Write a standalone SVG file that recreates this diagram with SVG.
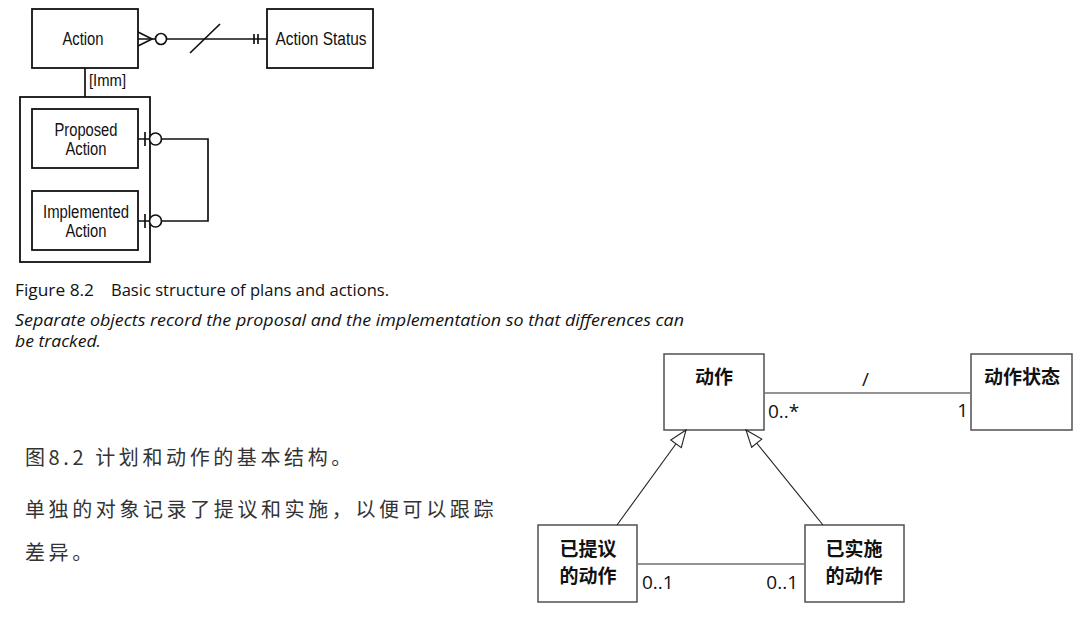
<svg xmlns="http://www.w3.org/2000/svg" width="1080" height="622" viewBox="0 0 1080 622">
<style>
.er{fill:#fff;stroke:#111;stroke-width:1.8}
.erl{fill:none;stroke:#111;stroke-width:1.7}
.erc{fill:#fff;stroke:#111;stroke-width:1.7}
.ert{font-family:"Liberation Sans",Arial,sans-serif;font-size:18px;fill:#111;text-anchor:middle}
.cap{font-family:"Open Sans","Noto Sans",sans-serif;font-size:16px;fill:#111}
.cn{font-family:"Noto Sans CJK SC",sans-serif;font-size:20px;fill:#333;letter-spacing:3.6px}
.uml{fill:#fff;stroke:#505050;stroke-width:1.5}
.umt{font-family:"Noto Sans CJK SC",sans-serif;font-size:19px;font-weight:bold;fill:#111;text-anchor:middle}
.mul{font-family:"Open Sans","Noto Sans",sans-serif;font-size:19px;fill:#111}
.assoc{fill:none;stroke:#707070;stroke-width:1.5}
.gen{fill:none;stroke:#222;stroke-width:1.1}
</style>
<defs>
<marker id="tri" markerUnits="userSpaceOnUse" viewBox="-19 -9 20 18" markerWidth="20" markerHeight="18" refX="0" refY="0" orient="auto">
<path d="M0,0 L-17,-6.5 L-17,6.5 Z" fill="#fff" stroke="#222" stroke-width="1.1"/>
</marker>
</defs>
<rect width="1080" height="622" fill="#fff"/>

<g id="er-action">
<rect class="er" x="32" y="9" width="106" height="59"/>
<text class="ert" x="83" y="45" textLength="41" lengthAdjust="spacingAndGlyphs">Action</text>
</g>
<g id="er-action-status">
<rect class="er" x="267" y="9" width="106" height="59"/>
<text class="ert" x="321" y="45" textLength="91" lengthAdjust="spacingAndGlyphs">Action  Status</text>
</g>
<g id="er-imm-label">
<text class="ert" x="89" y="86" style="text-anchor:start;font-size:16px" textLength="37" lengthAdjust="spacingAndGlyphs">[Imm]</text>
</g>
<g id="er-action-subtypes">
<rect class="er" x="20" y="97" width="130" height="165" style="fill:none"/>
</g>
<g id="er-proposed-action">
<rect class="er" x="32" y="109" width="106" height="59"/>
<text class="ert" x="86" y="136" textLength="63" lengthAdjust="spacingAndGlyphs">Proposed</text>
<text class="ert" x="86" y="155" textLength="41" lengthAdjust="spacingAndGlyphs">Action</text>
</g>
<g id="er-implemented-action">
<rect class="er" x="32" y="191" width="106" height="59"/>
<text class="ert" x="86" y="218" textLength="86" lengthAdjust="spacingAndGlyphs">Implemented</text>
<text class="ert" x="86" y="237" textLength="41" lengthAdjust="spacingAndGlyphs">Action</text>
</g>

<g id="caption-en">
<text class="cap" y="296"><tspan x="15" textLength="79" lengthAdjust="spacingAndGlyphs">Figure 8.2</tspan><tspan x="111" textLength="278" lengthAdjust="spacingAndGlyphs">Basic structure of plans and actions.</tspan></text>
<text class="cap" x="15" y="326" font-style="italic" textLength="669" lengthAdjust="spacingAndGlyphs">Separate objects record the proposal and the implementation so that differences can</text>
<text class="cap" x="15" y="347" font-style="italic" textLength="86" lengthAdjust="spacingAndGlyphs">be tracked.</text>
</g>

<g id="caption-cn">
<text class="cn" x="25" y="465">图8.2 计划和动作的基本结构。</text>
<text class="cn" x="25" y="517">单独的对象记录了提议和实施，以便可以跟踪</text>
<text class="cn" x="25" y="560">差异。</text>
</g>

<g id="uml-action">
<rect class="uml" x="664" y="354" width="100" height="76"/>
<text class="umt" x="714" y="384">动作</text>
</g>
<g id="uml-action-status">
<rect class="uml" x="971" y="354" width="101" height="76"/>
<text class="umt" x="1022" y="384">动作状态</text>
</g>
<g id="uml-proposed">
<rect class="uml" x="538" y="525" width="99" height="77"/>
<text class="umt" x="588" y="556">已提议</text>
<text class="umt" x="588" y="583">的动作</text>
</g>
<g id="uml-implemented">
<rect class="uml" x="805" y="525" width="99" height="77"/>
<text class="umt" x="854" y="556">已实施</text>
<text class="umt" x="854" y="583">的动作</text>
</g>

<g id="connectors">
<line class="erl" x1="138" y1="39" x2="267" y2="39"/>
<polyline class="erl" points="138,32 152,39 138,46"/>
<circle class="erc" cx="161" cy="39" r="5.5"/>
<line class="erl" x1="254" y1="34" x2="254" y2="44"/>
<line class="erl" x1="258" y1="34" x2="258" y2="44"/>
<line class="erl" x1="190" y1="53" x2="220" y2="24"/>
<line class="erl" x1="85" y1="68" x2="85" y2="97"/>
<polyline class="erl" points="138,139 208,139 208,221 138,221"/>
<line class="erl" x1="145" y1="132" x2="145" y2="146"/>
<circle class="erc" cx="155.5" cy="139" r="6"/>
<line class="erl" x1="145" y1="214" x2="145" y2="228"/>
<circle class="erc" cx="155.5" cy="221" r="6"/>
<line class="assoc" x1="764" y1="393" x2="971" y2="393"/>
<line class="assoc" x1="637" y1="564" x2="805" y2="564"/>
<line class="gen" x1="617" y1="525" x2="686" y2="430" marker-end="url(#tri)"/>
<line class="gen" x1="823" y1="525" x2="746" y2="430" marker-end="url(#tri)"/>
</g>

<g id="uml-labels">
<text class="mul" x="862" y="386">/</text>
<text class="mul" x="768" y="418">0..*</text>
<text class="mul" x="968" y="417" text-anchor="end">1</text>
<text class="mul" x="642" y="589">0..1</text>
<text class="mul" x="798" y="589" text-anchor="end">0..1</text>
</g>
</svg>
